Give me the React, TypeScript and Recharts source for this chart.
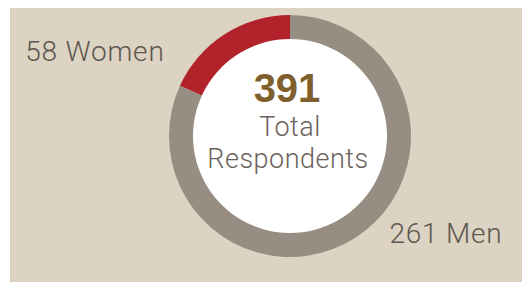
import { PieChart, Pie, Cell } from 'recharts'

const categories = ['Women', 'Men']
const counts = [58, 261]
const totalRespondents = 391
const centerLines = ['Total', 'Respondents']

const colors = ['#B1222B', '#978D83']

const data = categories.map((name, i) => ({ name, value: counts[i] }))
const hole = [{ name: 'total', value: totalRespondents }]

const LIGHT = 'Roboto, "Liberation Sans", sans-serif'
const BOLD = '"Liberation Sans", Arial, sans-serif'

// where each label sits relative to its slice's outer mid point
const labelShift = [
  { dx: -60, dy: 27, anchor: 'end' },
  { dx: 34, dy: 5, anchor: 'start' },
]

const renderLabel = (props: any) => {
  const { cx, cy, midAngle, outerRadius, index, payload } = props
  const rad = (Math.PI / 180) * midAngle
  const x = cx + outerRadius * Math.cos(rad)
  const y = cy - outerRadius * Math.sin(rad)
  const s = labelShift[index]
  return (
    <text x={x + s.dx} y={y + s.dy} textAnchor={s.anchor} fontFamily={LIGHT} fontWeight={300} fontSize={28} letterSpacing={0.8} fill="#5D5750">
      {`${payload.value} ${payload.name}`}
    </text>
  )
}

const renderCenter = (props: any) => {
  const { cx, cy } = props
  return (
    <g>
      <text x={cx - 3} y={cy - 34} textAnchor="middle" fontFamily={BOLD} fontWeight={700} fontSize={40} fill="#7F5F2C">
        {totalRespondents}
      </text>
      <text x={cx} y={cy} textAnchor="middle" fontFamily={LIGHT} fontWeight={300} fontSize={27} letterSpacing={0.5} fill="#6B625B">
        {centerLines[0]}
      </text>
      <text x={cx - 2} y={cy + 32} textAnchor="middle" fontFamily={LIGHT} fontWeight={300} fontSize={27} letterSpacing={0.5} fill="#6B625B">
        {centerLines[1]}
      </text>
    </g>
  )
}

export default function App() {
  return (
    <div style={{ position: 'absolute', left: 0, top: 0, width: 522, height: 282, background: '#fff' }}>
      <div style={{ position: 'absolute', left: 10, top: 8, width: 512, height: 274, background: '#DCD3C3' }} />
      <div style={{ position: 'absolute', left: 0, top: 0 }}>
        <PieChart width={522} height={282} margin={{ top: 0, right: 0, bottom: 0, left: 0 }}>
          <Pie
            data={data}
            dataKey="value"
            cx={290}
            cy={136}
            innerRadius={96}
            outerRadius={121}
            startAngle={90}
            endAngle={450}
            stroke="none"
            label={renderLabel}
            labelLine={false}
            isAnimationActive={false}
          >
            {data.map((d, i) => (
              <Cell key={d.name} fill={colors[i]} />
            ))}
          </Pie>
          <Pie
            data={hole}
            dataKey="value"
            cx={290}
            cy={136}
            innerRadius={0}
            outerRadius={97}
            fill="#fff"
            stroke="none"
            label={renderCenter}
            labelLine={false}
            isAnimationActive={false}
          />
        </PieChart>
      </div>
    </div>
  )
}
